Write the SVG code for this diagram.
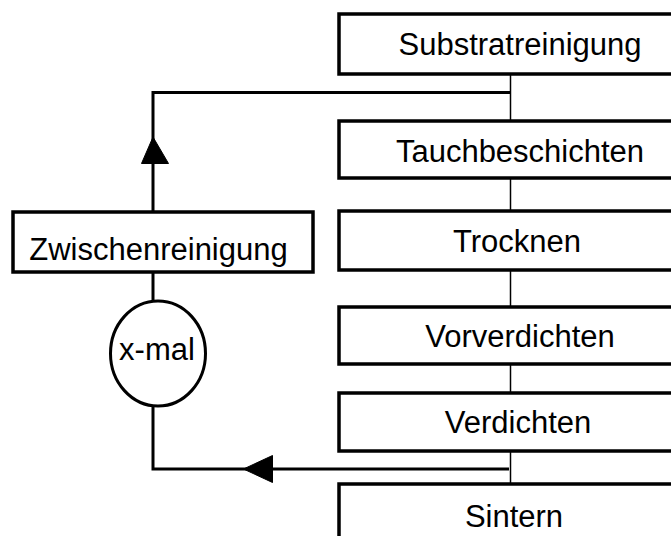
<svg xmlns="http://www.w3.org/2000/svg" width="671" height="536" viewBox="0 0 671 536">
<style>
.box{fill:#fff;stroke:#000;stroke-width:3.5}
.t{font-family:"Liberation Sans",Arial,sans-serif;font-size:31px;fill:#000;text-anchor:middle}
.thin{stroke:#000;stroke-width:1.5;fill:none}
.thick{stroke:#000;stroke-width:3;fill:none}
.ah{fill:#000;stroke:#000;stroke-width:1;stroke-linejoin:round}
</style>
<rect width="671" height="536" fill="#fff"/>
<g id="connectors">
<line class="thin" x1="510.5" y1="73" x2="510.5" y2="121"/>
<line class="thin" x1="510.5" y1="178" x2="510.5" y2="211"/>
<line class="thin" x1="510.5" y1="270" x2="510.5" y2="307"/>
<line class="thin" x1="510.5" y1="364" x2="510.5" y2="393"/>
<line class="thin" x1="510.5" y1="451" x2="510.5" y2="484"/>
<polyline class="thick" points="153,212 153,92.5 511,92.5"/>
<line class="thick" x1="153" y1="272" x2="153" y2="301"/>
<polyline class="thick" points="153,406 153,469 509,469"/>
<polygon class="ah" points="153,137 141.5,163.5 168.5,163.5"/>
<polygon class="ah" points="243.5,469 272.5,455.5 272.5,482.5"/>
</g>
<g id="substratreinigung">
<rect class="box" x="339" y="14" width="360" height="60"/>
<text class="t" x="520" y="55">Substratreinigung</text>
</g>
<g id="tauchbeschichten">
<rect class="box" x="339" y="121" width="360" height="57"/>
<text class="t" x="520" y="162">Tauchbeschichten</text>
</g>
<g id="trocknen">
<rect class="box" x="339" y="211" width="360" height="59"/>
<text class="t" x="517" y="251.5">Trocknen</text>
</g>
<g id="vorverdichten">
<rect class="box" x="339" y="307" width="360" height="57"/>
<text class="t" x="520" y="346.5">Vorverdichten</text>
</g>
<g id="verdichten">
<rect class="box" x="339" y="393" width="360" height="58"/>
<text class="t" x="518" y="433">Verdichten</text>
</g>
<g id="sintern">
<rect class="box" x="339" y="484" width="360" height="80"/>
<text class="t" x="514" y="526.5">Sintern</text>
</g>
<g id="zwischenreinigung">
<rect class="box" x="13" y="212" width="300" height="60"/>
<text class="t" x="158.5" y="260">Zwischenreinigung</text>
</g>
<g id="x-mal">
<ellipse cx="158" cy="353.5" rx="47.5" ry="52.5" fill="#fff" stroke="#000" stroke-width="3"/>
<text class="t" x="157" y="360">x-mal</text>
</g>
</svg>
